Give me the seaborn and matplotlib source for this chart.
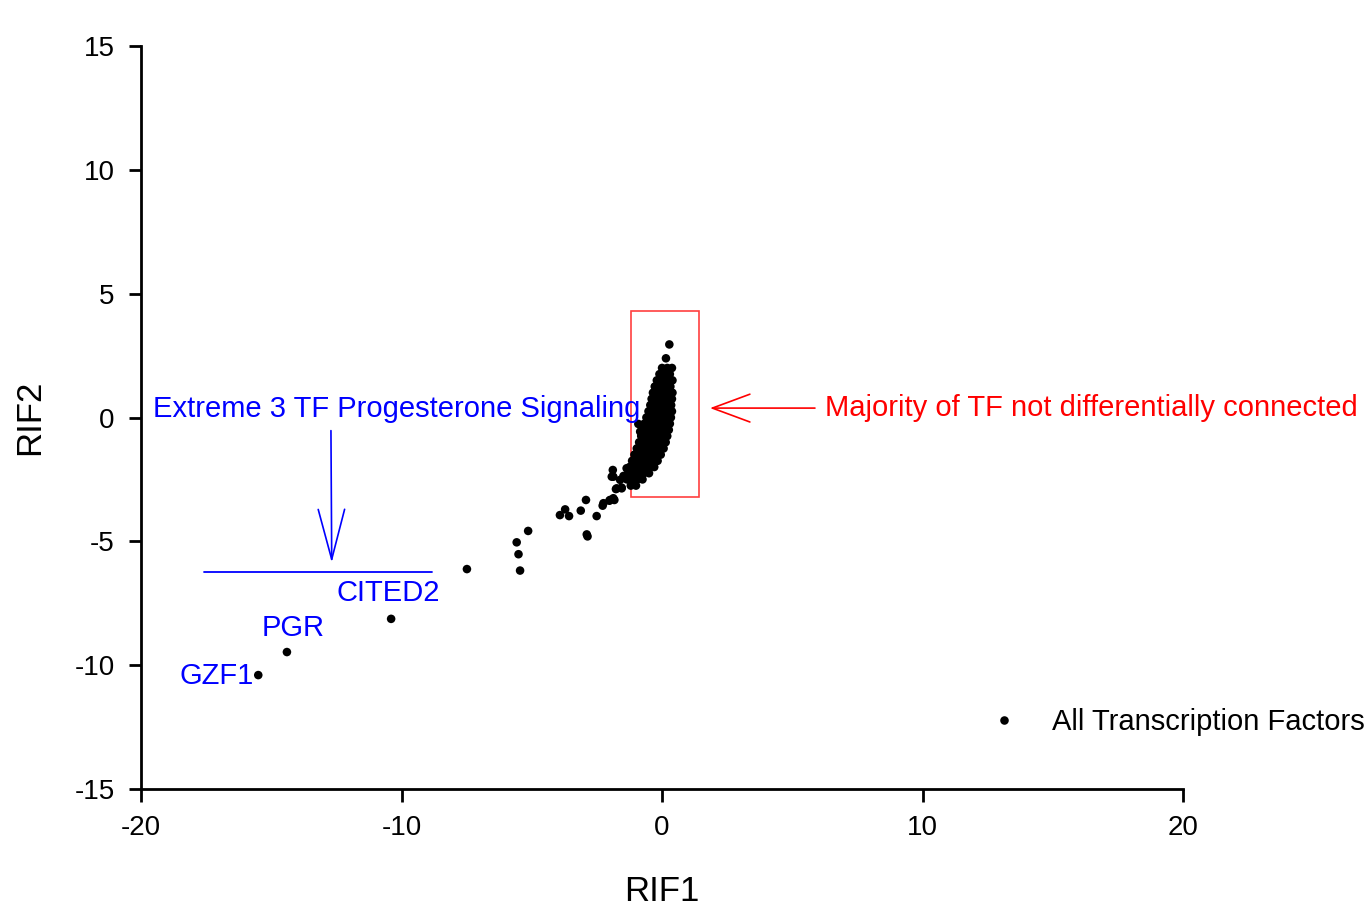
import matplotlib
matplotlib.use("Agg")
import matplotlib.pyplot as plt
import pandas as pd
import seaborn as sns
from matplotlib.patches import Rectangle

# TFs away from the main cluster
tail_rif1 = [-15.5, -14.4, -10.4, -7.49, -5.14, -5.58, -5.51, -5.45, -3.92, -3.72,
             -3.57, -3.12, -2.92, -2.89, -2.86, -2.51, -2.28, -2.02, -1.83, -1.77,
             -1.55, -1.89, -1.93, -1.48, -1.36, -1.07, -1.61, -0.91, -0.84, -1.04,
             -1.10, -1.87, -1.74, -1.55, -1.87, -2.00, -2.25]
tail_rif2 = [-10.4, -9.47, -8.13, -6.12, -4.58, -5.04, -5.52, -6.18, -3.94, -3.71,
             -3.98, -3.76, -3.33, -4.72, -4.80, -3.98, -3.56, -3.36, -3.33, -2.89,
             -2.83, -2.12, -2.39, -2.36, -2.05, -2.59, -2.52, -0.26, -0.57, -1.84,
             -2.59, -2.39, -2.86, -2.86, -3.26, -3.33, -3.46]

# dense core of TFs near the origin, row by row
core_rif1 = [0.28,
             0.15,
             0.0, 0.2, 0.38,
             -0.1, 0.1, 0.3,
             -0.2, 0.0, 0.2, 0.4,
             -0.28, -0.08, 0.12, 0.32,
             -0.35, -0.15, 0.05, 0.25, 0.4,
             -0.4, -0.2, 0.0, 0.2, 0.38,
             -0.45, -0.25, -0.05, 0.15, 0.35,
             -0.52, -0.32, -0.12, 0.08, 0.28, 0.38,
             -0.6, -0.4, -0.2, 0.0, 0.2, 0.34,
             -0.68, -0.48, -0.28, -0.08, 0.12, 0.3,
             -0.74, -0.54, -0.34, -0.14, 0.06, 0.26,
             -0.8, -0.6, -0.4, -0.2, 0.0, 0.2,
             -0.88, -0.68, -0.48, -0.28, -0.08, 0.14,
             -0.97, -0.77, -0.57, -0.37, -0.17, 0.06,
             -1.06, -0.86, -0.66, -0.46, -0.26, -0.05,
             -1.15, -0.95, -0.75, -0.55, -0.35, -0.17,
             -1.25, -1.05, -0.85, -0.65, -0.45, -0.3,
             -1.3, -1.1, -0.9, -0.7, -0.5,
             -1.35, -1.15, -0.95, -0.75,
             -1.2, -1.0]
core_rif2 = [2.95,
             2.39,
             2.0, 2.0, 2.0,
             1.75, 1.75, 1.75,
             1.5, 1.5, 1.5, 1.5,
             1.25, 1.25, 1.25, 1.25,
             1.0, 1.0, 1.0, 1.0, 1.0,
             0.75, 0.75, 0.75, 0.75, 0.75,
             0.5, 0.5, 0.5, 0.5, 0.5,
             0.25, 0.25, 0.25, 0.25, 0.25, 0.25,
             0.0, 0.0, 0.0, 0.0, 0.0, 0.0,
             -0.25, -0.25, -0.25, -0.25, -0.25, -0.25,
             -0.5, -0.5, -0.5, -0.5, -0.5, -0.5,
             -0.75, -0.75, -0.75, -0.75, -0.75, -0.75,
             -1.0, -1.0, -1.0, -1.0, -1.0, -1.0,
             -1.25, -1.25, -1.25, -1.25, -1.25, -1.25,
             -1.5, -1.5, -1.5, -1.5, -1.5, -1.5,
             -1.75, -1.75, -1.75, -1.75, -1.75, -1.75,
             -2.0, -2.0, -2.0, -2.0, -2.0, -2.0,
             -2.25, -2.25, -2.25, -2.25, -2.25,
             -2.5, -2.5, -2.5, -2.5,
             -2.75, -2.75]

gene_labels = ["GZF1", "PGR", "CITED2"]
label_x = [-18.54, -15.39, -12.51]
label_y = [-10.44, -8.5, -7.09]

x_ticks = [-20, -10, 0, 10, 20]
y_ticks = [-15, -10, -5, 0, 5, 10, 15]

df = pd.DataFrame({
    "RIF1": tail_rif1 + core_rif1,
    "RIF2": tail_rif2 + core_rif2,
    "group": "All Transcription Factors",
})

sns.set_style("ticks")
plt.rcParams["font.family"] = ["Liberation Sans", "DejaVu Sans"]
plt.rcParams["axes.unicode_minus"] = False
plt.rcParams["text.color"] = "black"
plt.rcParams["xtick.color"] = "black"
plt.rcParams["ytick.color"] = "black"
plt.rcParams["axes.edgecolor"] = "black"
plt.rcParams["axes.labelcolor"] = "black"

FS = 21

fig = plt.figure(figsize=(13.68, 9.09), dpi=100)
ax = fig.add_axes([0.1031, 0.1320, 0.7617, 0.8174])

sns.scatterplot(data=df, x="RIF1", y="RIF2", hue="group", palette=["black"],
                s=38, linewidth=0, ax=ax, zorder=3)

ax.set_xlim(-20, 20)
ax.set_ylim(-15, 15)
ax.set_xticks(x_ticks)
ax.set_yticks(y_ticks)
ax.tick_params(direction="out", length=9, width=2, labelsize=20, pad=10)
for side in ["left", "bottom"]:
    ax.spines[side].set_linewidth(2)
for side in ["top", "right"]:
    ax.spines[side].set_visible(False)
ax.set_xlabel("RIF1", fontsize=25, labelpad=24)
ax.set_ylabel("RIF2", fontsize=25, labelpad=20)

# red box around the undifferentiated majority
ax.add_patch(Rectangle((-1.19, -3.21), 2.61, 7.51, fill=False,
                       edgecolor="#ff4040", linewidth=1.2, zorder=2))
ax.annotate("", xy=(1.84, 0.38), xytext=(5.87, 0.38),
            arrowprops=dict(arrowstyle="->,head_length=2.7,head_width=1.0",
                            mutation_scale=10, color="red", lw=1.2,
                            shrinkA=0, shrinkB=0))
ax.text(6.26, 0.38, "Majority of TF not differentially connected",
        color="red", fontsize=FS, va="center", ha="left")

# blue call-out for the extreme three
ax.text(-19.54, 0.34, "Extreme 3 TF Progesterone Signaling",
        color="blue", fontsize=FS, va="center", ha="left")
ax.annotate("", xy=(-12.68, -5.86), xytext=(-12.71, -0.53),
            arrowprops=dict(arrowstyle="->,head_length=3.6,head_width=0.95",
                            mutation_scale=10, color="blue", lw=1.2,
                            shrinkA=0, shrinkB=0))
ax.plot([-17.58, -8.83], [-6.22, -6.22], color="blue", lw=1.3)
for name, lx, ly in zip(gene_labels, label_x, label_y):
    ax.text(lx, ly, name, color="blue", fontsize=FS, va="center", ha="left")

ax.legend(loc="center left", bbox_to_anchor=(0.8198, 0.090), frameon=False,
          borderaxespad=0, borderpad=0, handlelength=0.6, handletextpad=1.34,
          fontsize=FS, markerscale=1.0)

fig.savefig("out.png", dpi=100)
